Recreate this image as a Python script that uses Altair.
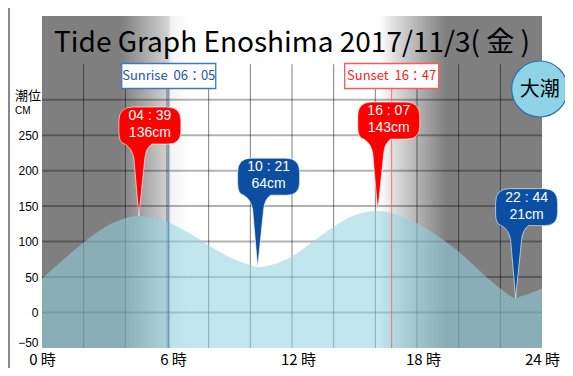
import altair as alt
import pandas as pd

# ---------------- data ----------------
hours = [0, 1, 2, 3, 4, 4.65, 5, 6, 7, 8, 9, 10, 10.35, 11, 12, 13, 14, 15,
         16, 16.12, 17, 18, 19, 20, 21, 22, 22.73, 23, 24]
levels = [48, 74, 99, 120, 133, 136, 135, 128, 113, 95, 78, 67, 64, 67, 79, 100, 121, 137,
          143, 143, 138, 126, 108, 86, 59, 34, 21, 23, 34]

ext_times = ["04 : 39", "10 : 21", "16 : 07", "22 : 44"]
ext_levels = [136, 64, 143, 21]
ext_kinds = ["high", "low", "high", "low"]

sun_events = ["Sunrise", "Sunset"]
sun_times = ["06:05", "16:47"]

y_ticks = [-50, 0, 50, 100, 150, 200, 250]
x_ticks = [0, 6, 12, 18, 24]
h_grid = [0, 50, 100, 150, 200, 250, 300]
v_grid = [2, 4, 6, 8, 10, 12, 14, 16, 18, 20, 22]

title_text = "Tide Graph Enoshima 2017/11/3( 金 )"
badge_text = "大潮"
unit_top = "潮位"
unit_bottom = "CM"


def to_hours(t):
    h, m = t.replace(" ", "").split(":")
    return int(h) + int(m) / 60


tide = pd.DataFrame({"hour": hours, "level": levels})
ext = pd.DataFrame({
    "hour": [to_hours(t) for t in ext_times],
    "level": ext_levels,
    "kind": ext_kinds,
    "time": ext_times,
    "cm": [f"{v}cm" for v in ext_levels],
})
sun = pd.DataFrame({
    "event": sun_events,
    "hour": [to_hours(t) for t in sun_times],
    "label": [f"{e}\u00a0\u00a0{t.replace(':', '：')}" for e, t in zip(sun_events, sun_times)],
})

# ---------------- styling ----------------
CJK = "Noto Sans CJK JP"
SANS = "Liberation Sans"
GRAY = "#7f7f7f"

xs = alt.Scale(domain=[0, 24], nice=False, zero=False)
ys = alt.Scale(domain=[-50, 418], nice=False, zero=False)

xaxis = alt.Axis(
    values=x_ticks, labelExpr="datum.value + ' 時'", ticks=False, domain=False,
    grid=False, labelFont=CJK, labelFontSize=15, labelPadding=4.5,
    labelOffset={"condition": {"test": "datum.value > 0 && datum.value < 24", "value": 6},
                 "value": 0},
    labelColor="black", labelFlush=False, labelOverlap=False, title=None)
yaxis = alt.Axis(
    values=y_ticks, ticks=False, domain=False, grid=False, labelFont=SANS,
    labelFontSize=12, labelPadding=4, labelColor="black", labelFlush=True,
    labelFlushOffset=1, labelOverlap=False, title=None)


def X(field):
    return alt.X(field, scale=xs, axis=xaxis)


def Y(field):
    return alt.Y(field, scale=ys, axis=yaxis)


W, H = 500, 332

grad = alt.Gradient(
    gradient="linear", x1=0, x2=1, y1=0, y2=0,
    stops=[
        alt.GradientStop(offset=0, color=GRAY),
        alt.GradientStop(offset=3.8 / 24, color=GRAY),
        alt.GradientStop(offset=6.05 / 24, color="#d2d2d2"),
        alt.GradientStop(offset=6.2 / 24, color="#f3f3f3"),
        alt.GradientStop(offset=7.0 / 24, color="#ffffff"),
        alt.GradientStop(offset=16.2 / 24, color="#ffffff"),
        alt.GradientStop(offset=17.0 / 24, color="#dadada"),
        alt.GradientStop(offset=19.4 / 24, color=GRAY),
        alt.GradientStop(offset=1, color=GRAY),
    ],
)

bg = alt.Chart(pd.DataFrame({"a": [0]})).mark_rect(fill=grad).encode(
    x=alt.value(0), x2=alt.value(W), y=alt.value(0), y2=alt.value(H)
)

vgrid = alt.Chart(pd.DataFrame({"h": v_grid})).mark_rule(
    color="black", strokeWidth=1, opacity=0.5
).encode(
    x=X("h:Q"),
    y=alt.YDatum(-50, scale=ys, axis=yaxis),
    y2=alt.Y2Datum(350),
)

hgrid = alt.Chart(pd.DataFrame({"v": h_grid})).mark_rule(
    color="black", strokeWidth=2, opacity=0.3
).encode(
    y=Y("v:Q"),
    x=alt.XDatum(0, scale=xs, axis=xaxis),
    x2=alt.X2Datum(24),
)

area = alt.Chart(tide).mark_area(
    color="#92d2e1", opacity=0.56, interpolate="monotone"
).encode(
    x=X("hour:Q"),
    y=Y("level:Q"),
    y2=alt.Y2Datum(-50),
)

sun_line_colors = {"Sunrise": "#3f78c2", "Sunset": "#ff5a5a"}
sun_text_colors = {"Sunrise": "#2156a6", "Sunset": "#ff2020"}
BOX = "M -47 -12.5 L 47 -12.5 L 47 12.5 L -47 12.5 Z"

sun_layers = []
for ev in sun_events:
    base = alt.Chart(sun).transform_filter(alt.datum.event == ev)
    sun_layers.append(base.mark_rule(
        strokeWidth=1, opacity=0.85, color=sun_line_colors[ev]
    ).encode(x=X("hour:Q"), y=alt.value(72), y2=alt.value(H)))
    sun_layers.append(base.mark_point(
        shape=BOX, size=4, filled=False, fill="white", fillOpacity=1, opacity=1,
        stroke=sun_line_colors[ev], strokeWidth=1.3
    ).encode(x=X("hour:Q"), y=alt.value(60)))
    sun_layers.append(base.mark_text(
        font=CJK, fontSize=13, align="center", baseline="middle",
        color=sun_text_colors[ev]
    ).encode(x=X("hour:Q"), y=alt.value(60), text="label:N"))

BUBBLE = ("M 0 0 L -5 -58 Q -7 -68 -14 -72 Q -20 -73 -20 -84 L -20 -95 "
          "Q -20 -109 -6 -109 L 28 -109 Q 42 -109 42 -95 L 42 -85 Q 42 -72 29 -72 "
          "L 13 -72 Q 7 -68 6 -58 Z")
kind_colors = alt.Scale(domain=["high", "low"], range=["#ff0000", "#0c4ea2"])

bubbles = alt.Chart(ext).mark_point(
    shape=BUBBLE, size=4, filled=True, opacity=1, fillOpacity=1,
    stroke="white", strokeWidth=1, strokeOpacity=0.6
).encode(
    x=X("hour:Q"),
    y=Y("level:Q"),
    fill=alt.Fill("kind:N", scale=kind_colors, legend=None),
)
b_time = alt.Chart(ext).mark_text(
    font=SANS, fontSize=14, color="white", dx=11, dy=-100, align="center", baseline="middle"
).encode(x=X("hour:Q"), y=Y("level:Q"), text="time:N")
b_cm = alt.Chart(ext).mark_text(
    font=SANS, fontSize=14, color="white", dx=11, dy=-83, align="center", baseline="middle"
).encode(x=X("hour:Q"), y=Y("level:Q"), text="cm:N")

title = alt.Chart(pd.DataFrame({"t": [title_text]})).mark_text(
    font=CJK, fontSize=28, align="center", baseline="alphabetic", color="black"
).encode(x=alt.value(W / 2), y=alt.value(36), text="t:N")

unit1 = alt.Chart(pd.DataFrame({"t": [unit_top]})).mark_text(
    font=CJK, fontSize=13, align="left", baseline="middle", color="black"
).encode(x=alt.value(-27), y=alt.value(79.5), text="t:N")
unit2 = alt.Chart(pd.DataFrame({"t": [unit_bottom]})).mark_text(
    font=SANS, fontSize=10, align="left", baseline="middle", color="black"
).encode(x=alt.value(-27), y=alt.value(95), text="t:N")

badge = alt.Chart(pd.DataFrame({"t": [badge_text]})).mark_point(
    shape="circle", size=3136, filled=True, fill="#8ed3e6", opacity=1,
    stroke="#2f6db3", strokeWidth=1.2
).encode(x=alt.value(497.7), y=alt.value(73))
badge_txt = alt.Chart(pd.DataFrame({"t": [badge_text]})).mark_text(
    font=CJK, fontSize=20, align="center", baseline="middle", color="black"
).encode(x=alt.value(497.7), y=alt.value(74), text="t:N")

frame_l = alt.Chart(pd.DataFrame({"a": [0]})).mark_rule(
    color="#888888", strokeWidth=2
).encode(x=alt.value(-33), y=alt.value(-8), y2=alt.value(352))

chart = alt.layer(
    bg, vgrid, hgrid, area, *sun_layers, bubbles, b_time, b_cm,
    title, unit1, unit2, badge, badge_txt, frame_l,
).properties(
    width=W, height=H, autosize="none",
    padding={"left": 34, "top": 8, "right": 23, "bottom": 20},
    background="white",
).configure_view(stroke=None)

chart.save("out.html", embed_options={"renderer": "svg", "actions": False})
